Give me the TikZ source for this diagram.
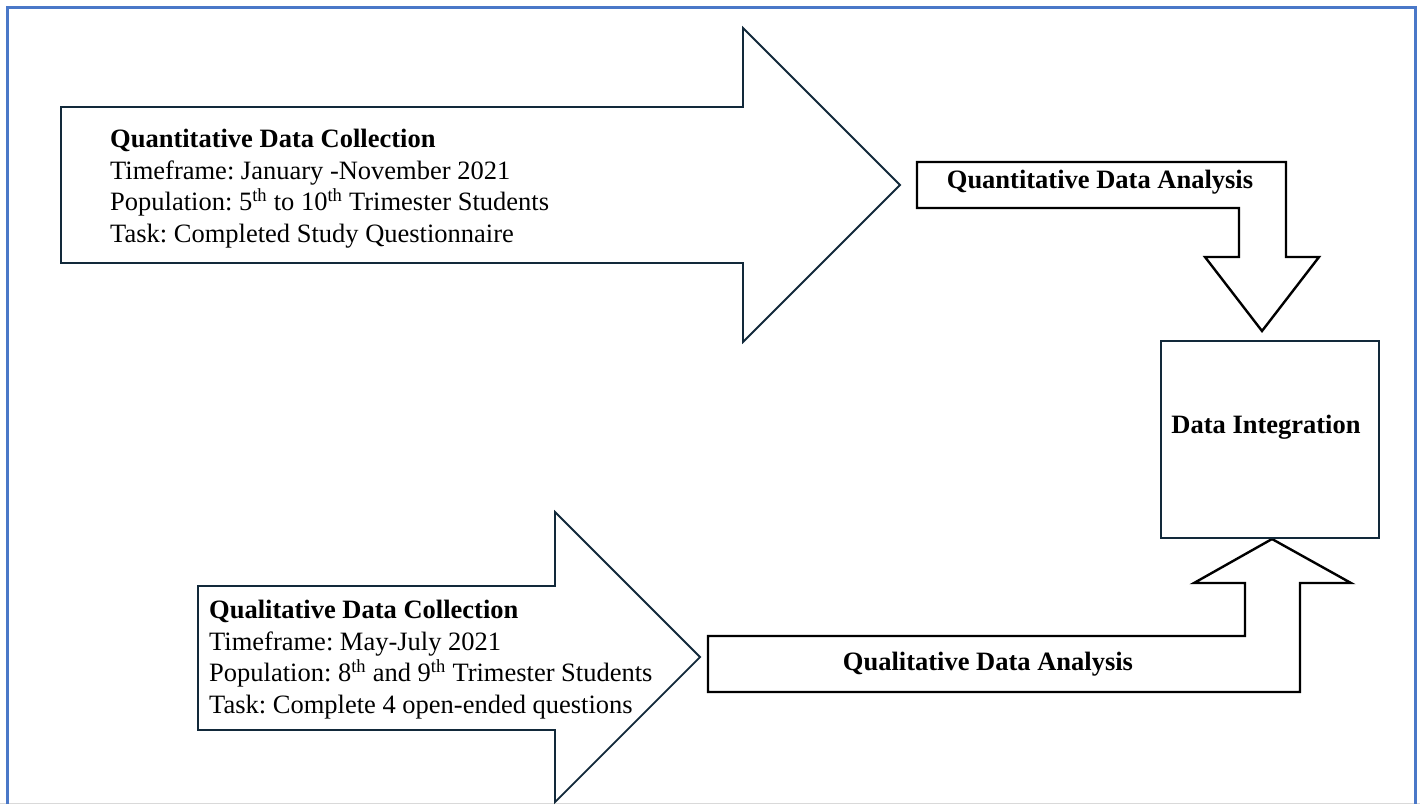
\documentclass[tikz,border=0pt]{standalone}
\usepackage{fontspec}
\setmainfont{Liberation Serif}
\usetikzlibrary{positioning}

\definecolor{framecol}{HTML}{4A78C8}
\definecolor{navy}{HTML}{12293A}

\begin{document}
\frenchspacing
\begin{tikzpicture}[x=1pt,y=-1pt,
  collect/.style={draw=navy,line width=1.8pt,fill=white},
  analyse/.style={draw=black,line width=2.4pt,fill=white},
  body/.style={font=\fontsize{26.5}{31.5}\selectfont,align=left,inner sep=0pt},
  title/.style={font=\fontsize{26.5}{31.5}\selectfont\bfseries,inner sep=0pt}]

\useasboundingbox (0,0) rectangle (1420,804);

% frame
\draw[lightgray!60,line width=1pt] (0,803) -- (1420,803);
\draw[framecol,line width=3pt] (7,804) -- (7,7) -- (1415,7) -- (1415,804);

% collection arrows
\draw[collect] (61,107) -- (743,107) -- (743,28) -- (900,185)
               -- (743,342) -- (743,263) -- (61,263) -- cycle;
\draw[collect] (198,586) -- (555,586) -- (555,512) -- (700,657)
               -- (555,802) -- (555,730) -- (198,730) -- cycle;

% analysis arrows
\draw[analyse] (917,162) -- (1286,162) -- (1286,257) -- (1319,257) -- (1262,331)
               -- (1205,257) -- (1239,257) -- (1239,208) -- (917,208) -- cycle;
\draw[analyse] (708,636) -- (1245,636) -- (1245,583) -- (1194,583) -- (1272,539)
               -- (1351,583) -- (1300,583) -- (1300,692) -- (708,692) -- cycle;

% integration box
\node[collect,minimum width=218pt,minimum height=197pt] (DI) at (1270,439.5) {};

% base of these is the last line
\node[body,anchor=base west] (QNC) at (110,242)
  {\textbf{Quantitative Data Collection}\\
   Timeframe: January -November 2021\\
   Population: 5\textsuperscript{th} to 10\textsuperscript{th} Trimester Students\\
   Task: Completed Study Questionnaire};
\node[body,anchor=base west] (QLC) at (209,713)
  {\textbf{Qualitative Data Collection}\\
   Timeframe: May-July 2021\\
   Population: 8\textsuperscript{th} and 9\textsuperscript{th} Trimester Students\\
   Task: Complete 4 open-ended questions};

\node[title,anchor=base] (QNA) at (1100,188) {Quantitative Data Analysis};
\node[title,anchor=base] (QLA) at (988,670) {Qualitative Data Analysis};
\node[title,anchor=base] (DIT) at (1266,433) {Data Integration};
\end{tikzpicture}
\end{document}
